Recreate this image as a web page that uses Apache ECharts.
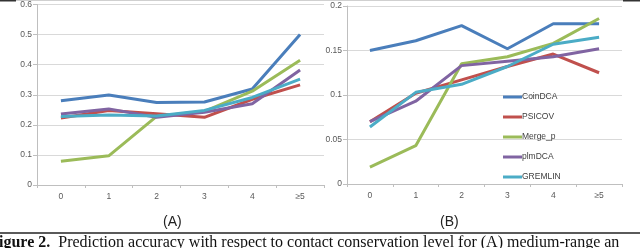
<!DOCTYPE html>
<html><head><meta charset="utf-8">
<script src="https://cdn.jsdelivr.net/npm/echarts@6/dist/echarts.min.js"></script>
<style>html,body{margin:0;padding:0;background:#fff}#c{width:640px;height:248px}</style>
</head><body><div id="c"></div>
<script>
const categories = ['0', '1', '2', '3', '4', '≥5'];
const seriesNames = ['CoinDCA', 'PSICOV', 'Merge_p', 'plmDCA', 'GREMLIN'];
const colors = ['#4a7ebb', '#c0504d', '#9bbb59', '#8064a2', '#4bacc6'];
// Panel A
const coinA = [0.280, 0.299, 0.274, 0.276, 0.319, 0.500];
const psicovA = [0.223, 0.248, 0.237, 0.225, 0.285, 0.333];
const mergeA = [0.079, 0.097, 0.228, 0.245, 0.312, 0.415];
const plmA = [0.236, 0.253, 0.225, 0.242, 0.270, 0.382];
const gremlinA = [0.228, 0.233, 0.229, 0.248, 0.291, 0.352];
// Panel B
const coinB = [0.150, 0.161, 0.178, 0.152, 0.180, 0.180];
const psicovB = [0.070, 0.102, 0.117, 0.132, 0.146, 0.125];
const mergeB = [0.019, 0.043, 0.135, 0.143, 0.158, 0.186];
const plmB = [0.070, 0.093, 0.133, 0.138, 0.143, 0.152];
const gremlinB = [0.064, 0.103, 0.112, 0.132, 0.157, 0.165];
const yTicksA = [0, 0.1, 0.2, 0.3, 0.4, 0.5, 0.6];
const yTicksB = [0, 0.05, 0.1, 0.15, 0.2];

const dataA = [coinA, psicovA, mergeA, plmA, gremlinA];
const dataB = [coinB, psicovB, mergeB, plmB, gremlinB];

const lab = {fontFamily: 'Liberation Sans', fontSize: 8.5, color: '#595959'};
function xAx(gi, margin) {
  return {type: 'category', gridIndex: gi, data: categories, boundaryGap: true,
    axisLine: {lineStyle: {color: '#bfbfbf', width: 1}},
    axisTick: {show: true, length: 3, lineStyle: {color: '#bfbfbf'}},
    axisLabel: Object.assign({margin: margin}, lab), splitLine: {show: false}};
}
function yAx(gi, ticks) {
  const iv = ticks[1] - ticks[0];
  return {type: 'value', gridIndex: gi, min: ticks[0], max: ticks[ticks.length - 1], interval: iv,
    axisLine: {show: true, lineStyle: {color: '#bfbfbf'}},
    axisTick: {show: true, length: 4, lineStyle: {color: '#bfbfbf'}},
    axisLabel: Object.assign({margin: 5, formatter: v => String(+v.toFixed(2))}, lab),
    splitLine: {lineStyle: {color: '#d9d9d9', width: 1}}};
}
const series = [];
seriesNames.forEach((n, i) => {
  series.push({name: n, type: 'line', xAxisIndex: 0, yAxisIndex: 0, data: dataA[i], showSymbol: false,
    lineStyle: {width: 3, color: colors[i]}, itemStyle: {color: colors[i]}, animation: false});
});
seriesNames.forEach((n, i) => {
  series.push({name: n, type: 'line', xAxisIndex: 1, yAxisIndex: 1, data: dataB[i], showSymbol: false,
    lineStyle: {width: 3, color: colors[i]}, itemStyle: {color: colors[i]}, animation: false});
});

const chart = echarts.init(document.getElementById('c'), null, {renderer: 'canvas'});
chart.setOption({
  animation: false,
  backgroundColor: '#fff',
  grid: [
    {left: 37, right: 316, top: 3, bottom: 63},
    {left: 347, right: 18, top: 6, bottom: 64}
  ],
  xAxis: [xAx(0, 7), xAx(1, 7)],
  yAxis: [yAx(0, yTicksA), yAx(1, yTicksB)],
  legend: {orient: 'vertical', left: 498, top: 87, itemWidth: 19, itemHeight: 3, itemGap: 10,
    icon: 'rect', data: seriesNames,
    textStyle: {fontFamily: 'Liberation Sans', fontSize: 8.5, color: '#404040', lineHeight: 10, padding: [0, 0, 0, -5]}},
  series: series,
  graphic: [
    {type: 'rect', shape: {x: 0, y: 0, width: 640, height: 1}, style: {fill: '#d0d0d0'}},
    {type: 'rect', shape: {x: 0, y: 0, width: 16, height: 1.5}, style: {fill: '#333'}},
    {type: 'rect', shape: {x: 623, y: 0, width: 17, height: 1.5}, style: {fill: '#333'}},
    {type: 'text', left: 163, top: 215, style: {text: '(A)', font: '14px "Liberation Sans"', fill: '#222'}},
    {type: 'text', left: 440, top: 215, style: {text: '(B)', font: '14px "Liberation Sans"', fill: '#222'}},
    {type: 'rect', shape: {x: 0, y: 232, width: 640, height: 2}, style: {fill: '#5a5a5a'}},
    {type: 'text', x: -1, y: 235, style: {
      text: '{b|igure 2.}  Prediction accuracy with respect to contact conservation level for (A) medium-range an',
      font: '16px "Liberation Serif"', fill: '#111', lineHeight: 16,
      rich: {b: {fontFamily: 'Liberation Serif', fontWeight: 'bold', fontSize: 16, lineHeight: 16, fill: '#111'}}}}
  ]
});
</script></body></html>
